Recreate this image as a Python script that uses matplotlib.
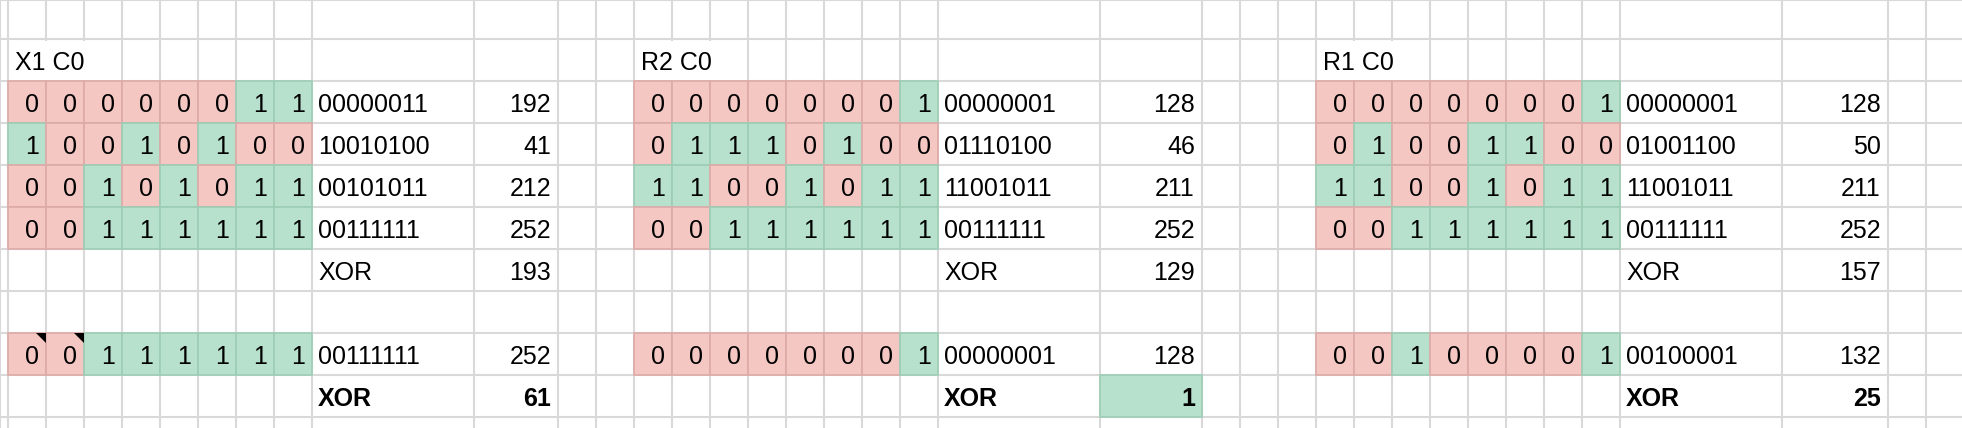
import matplotlib.pyplot as plt
from matplotlib.patches import Rectangle, Polygon

# sheet contents, one block per section
titles = ["X1 C0", "R2 C0", "R1 C0"]

bits_x1 = [[0, 0, 0, 0, 0, 0, 1, 1],
           [1, 0, 0, 1, 0, 1, 0, 0],
           [0, 0, 1, 0, 1, 0, 1, 1],
           [0, 0, 1, 1, 1, 1, 1, 1]]
bits_r2 = [[0, 0, 0, 0, 0, 0, 0, 1],
           [0, 1, 1, 1, 0, 1, 0, 0],
           [1, 1, 0, 0, 1, 0, 1, 1],
           [0, 0, 1, 1, 1, 1, 1, 1]]
bits_r1 = [[0, 0, 0, 0, 0, 0, 0, 1],
           [0, 1, 0, 0, 1, 1, 0, 0],
           [1, 1, 0, 0, 1, 0, 1, 1],
           [0, 0, 1, 1, 1, 1, 1, 1]]

values_x1 = [192, 41, 212, 252]
values_r2 = [128, 46, 211, 252]
values_r1 = [128, 50, 211, 252]
xor_vals = [193, 129, 157]

last_bits = [[0, 0, 1, 1, 1, 1, 1, 1],
             [0, 0, 0, 0, 0, 0, 0, 1],
             [0, 0, 1, 0, 0, 0, 0, 1]]
last_vals = [252, 128, 132]
final_xor = [61, 1, 25]

# layout of the sheet (pixels)
W, H = 1962, 428
cell_w = 38
bin_w = 162
val_w = [84, 102, 106]
gap_cols = [2, 3, 2]
row_h = 42
row_top = 39

pink, pink_edge = "#f4c7c3", "#dcaba7"
green, green_edge = "#b7e1cd", "#9dcdb5"
grid = "#d9d9d9"

plt.rcParams['font.family'] = ["Liberation Sans", "DejaVu Sans"]
fs = 18

fig = plt.figure(figsize=(W / 100.0, H / 100.0), dpi=100)
ax = fig.add_axes([0, 0, 1, 1])
ax.set_xlim(0, W)
ax.set_ylim(H, 0)
ax.axis("off")

# column boundaries
xs = [0, 8]
starts = []
x = 8
for s in range(3):
    starts.append(x)
    for i in range(8):
        x += cell_w
        xs.append(x)
    x += bin_w
    xs.append(x)
    x += val_w[s]
    xs.append(x)
    for i in range(gap_cols[s]):
        x += cell_w
        xs.append(x)

ys = [0] + [row_top + row_h * i for i in range(10)]

for xv in xs:
    ax.plot([xv, xv], [0, H], color=grid, lw=1.5, zorder=1)
for yv in ys:
    ax.plot([0, W], [yv, yv], color=grid, lw=1.5, zorder=1)


def row_y(i):
    return row_top + row_h * i


def bit_row(x0, r, bits):
    y0 = row_y(r)
    for j, b in enumerate(bits):
        fc, ec = (green, green_edge) if b else (pink, pink_edge)
        ax.add_patch(Rectangle((x0 + j * cell_w, y0), cell_w, row_h,
                               facecolor=fc, edgecolor=ec, lw=1.2, zorder=2))
        ax.text(x0 + (j + 1) * cell_w - 7, y0 + 31, str(b), fontsize=fs,
                ha="right", va="baseline", zorder=3)
    ax.text(x0 + 8 * cell_w + 6, y0 + 31, "".join(str(b) for b in bits),
            fontsize=fs, ha="left", va="baseline", zorder=3)


all_bits = [bits_x1, bits_r2, bits_r1]
all_vals = [values_x1, values_r2, values_r1]

for s in range(3):
    x0 = starts[s]
    bx = x0 + 8 * cell_w
    vx = bx + bin_w + val_w[s]
    # title text overflows into the next cells, hiding their borders
    ax.add_patch(Rectangle((x0 + 1.5, row_y(0) + 1.5), 3 * cell_w - 3,
                           row_h - 3, facecolor="white", edgecolor="none",
                           zorder=1.5))
    ax.text(x0 + 7, row_y(0) + 31, titles[s], fontsize=fs, ha="left",
            va="baseline", zorder=3)
    for r in range(4):
        bit_row(x0, r + 1, all_bits[s][r])
        ax.text(vx - 7, row_y(r + 1) + 31, str(all_vals[s][r]), fontsize=fs,
                ha="right", va="baseline", zorder=3)
    ax.text(bx + 6, row_y(5) + 31, "XOR", fontsize=fs, ha="left",
            va="baseline", zorder=3)
    ax.text(vx - 7, row_y(5) + 31, str(xor_vals[s]), fontsize=fs,
            ha="right", va="baseline", zorder=3)

    bit_row(x0, 7, last_bits[s])
    ax.text(vx - 7, row_y(7) + 31, str(last_vals[s]), fontsize=fs,
            ha="right", va="baseline", zorder=3)
    ax.text(bx + 6, row_y(8) + 31, "XOR", fontsize=fs, ha="left",
            va="baseline", fontweight="bold", zorder=3)
    if s == 1:
        ax.add_patch(Rectangle((bx + bin_w, row_y(8)), val_w[s], row_h,
                               facecolor=green, edgecolor=green_edge, lw=1.2,
                               zorder=2))
    ax.text(vx - 7, row_y(8) + 31, str(final_xor[s]), fontsize=fs,
            ha="right", va="baseline", fontweight="bold", zorder=3)

# note markers on the first two cells of the X1 check row
for j in range(2):
    xr = starts[0] + (j + 1) * cell_w
    yt = row_y(7)
    ax.add_patch(Polygon([(xr - 10, yt), (xr, yt), (xr, yt + 10)],
                         closed=True, facecolor="black", edgecolor="none",
                         zorder=4))

fig.savefig("out.png", dpi=100)
